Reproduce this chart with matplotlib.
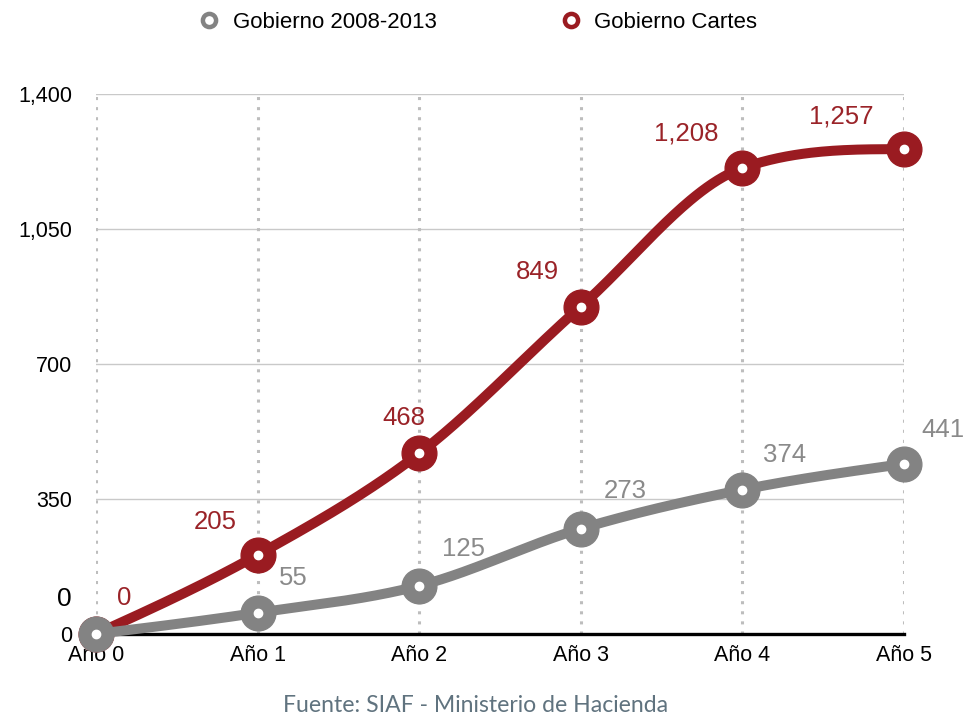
import numpy as np
import matplotlib
matplotlib.use("Agg")
import matplotlib.pyplot as plt
from matplotlib.lines import Line2D

# ---- data ----
categories = ["Año 0", "Año 1", "Año 2", "Año 3", "Año 4", "Año 5"]
gob_2008_2013 = [0, 55, 125, 273, 374, 441]
gob_cartes = [0, 205, 468, 849, 1208, 1257]
series_names = ["Gobierno 2008-2013", "Gobierno Cartes"]
ytick_values = [0, 350, 700, 1050, 1400]
ytick_labels = ["0", "350", "700", "1,050", "1,400"]
source_text = "Fuente: SIAF - Ministerio de Hacienda"

# ---- styles ----
RED = "#9a1b21"
GRAY = "#838383"
RED_TXT = "#9a2328"
GRAY_TXT = "#8a8a8a"
FONT = ["Liberation Sans", "DejaVu Sans"]
plt.rcParams["font.family"] = FONT

# label offsets in pixels (dx, dy up)
red_offsets = [(28, 36), (-42, 33), (-15, 35), (-43, 35), (-56, 35), (-63, 33)]
gray_offsets = [(0, 0), (36, 35), (44, 37), (44, 38), (42, 35), (39, 34)]


def smooth(x, y, n=60):
    x = np.asarray(x, float)
    y = np.asarray(y, float)
    h = np.diff(x)
    s = np.diff(y) / h
    m = np.zeros_like(y)
    for k in range(1, len(y) - 1):
        if s[k - 1] * s[k] <= 0:
            m[k] = 0
        else:
            c = (y[k + 1] - y[k - 1]) / (x[k + 1] - x[k - 1])
            m[k] = np.sign(c) * min(abs(c), 3 * abs(s[k - 1]), 3 * abs(s[k]))
    m[0] = max((3 * s[0] - m[1]) / 2, 0)
    m[-1] = max((3 * s[-1] - m[-2]) / 2, 0)
    xs, ys = [], []
    for k in range(len(h)):
        t = np.linspace(0, 1, n)
        h00 = 2 * t**3 - 3 * t**2 + 1
        h10 = t**3 - 2 * t**2 + t
        h01 = -2 * t**3 + 3 * t**2
        h11 = t**3 - t**2
        xs.append(x[k] + t * h[k])
        ys.append(h00 * y[k] + h10 * h[k] * m[k] + h01 * y[k + 1] + h11 * h[k] * m[k + 1])
    return np.concatenate(xs), np.concatenate(ys)


fig = plt.figure(figsize=(9.66, 7.17), dpi=100)
W, H = 966, 717
ax = fig.add_axes([96 / W, 1 - 634 / H, (904 - 96) / W, (634 - 94) / H])

x = np.arange(len(categories))
ax.set_xlim(0, len(categories) - 1)
ax.set_ylim(0, 1400)

# grid
for v in ytick_values[1:]:
    ax.axhline(v, color="#c9c9c9", lw=1.0, zorder=1)
for xi in x:
    ax.axvline(xi, color="#bdbdbd", lw=2.2, ls=(0, (1, 2.3)), zorder=1)

LW = 7.2
OUT = 25
INN = 6

for vals, col, zo in [(gob_cartes, RED, 3), (gob_2008_2013, GRAY, 5)]:
    xs, ys = smooth(x, vals)
    ax.plot(xs, ys, color=col, lw=LW, solid_capstyle="round", zorder=zo, clip_on=False)
    ax.plot(x, vals, ls="none", marker="o", ms=OUT, color=col, mec=col, zorder=zo + 0.5, clip_on=False)
    ax.plot(x, vals, ls="none", marker="o", ms=INN, color="white", mec="white", zorder=zo + 0.6, clip_on=False)

for i, v in enumerate(gob_cartes):
    ax.annotate(f"{v:,}", (x[i], v), xytext=red_offsets[i], textcoords="offset pixels",
                ha="center", va="center", fontsize=18.5, color=RED_TXT, zorder=10)
for i, v in enumerate(gob_2008_2013):
    if i == 0:
        continue
    ax.annotate(f"{v:,}", (x[i], v), xytext=gray_offsets[i], textcoords="offset pixels",
                ha="center", va="center", fontsize=18.5, color=GRAY_TXT, zorder=10)

# spines / ticks
for sp in ["top", "right", "left"]:
    ax.spines[sp].set_visible(False)
ax.spines["bottom"].set_color("black")
ax.spines["bottom"].set_linewidth(2.4)
ax.spines["bottom"].set_zorder(2)
ax.set_xticks(x)
ax.set_xticklabels(categories, fontsize=15.5)
ax.set_yticks(ytick_values)
ax.set_yticklabels(ytick_labels, fontsize=15.5)
ax.tick_params(axis="both", length=0)
ax.tick_params(axis="x", pad=8)
ax.tick_params(axis="y", pad=17)

# extra zero label seen in the reference
ax.annotate("0", (0, 0), xytext=(-24, 35), textcoords="offset pixels",
            ha="right", va="center", fontsize=19, color="black")

# legend
handles = [
    Line2D([], [], ls="none", marker="o", ms=9.5, mfc="white", mec=GRAY, mew=3.2),
    Line2D([], [], ls="none", marker="o", ms=9.5, mfc="white", mec=RED, mew=3.2),
]
fig.legend(handles, series_names, loc="center", bbox_to_anchor=(479 / W, 1 - 22 / H),
           ncol=2, frameon=False, fontsize=16, handlelength=0.8, handletextpad=0.65,
           columnspacing=5.65)

fig.text(476 / W, 1 - 705 / H, source_text, ha="center", va="center", fontsize=16.6,
         color="#60737f", family=["Lato", "DejaVu Sans"])

fig.savefig("out.png", dpi=100)
